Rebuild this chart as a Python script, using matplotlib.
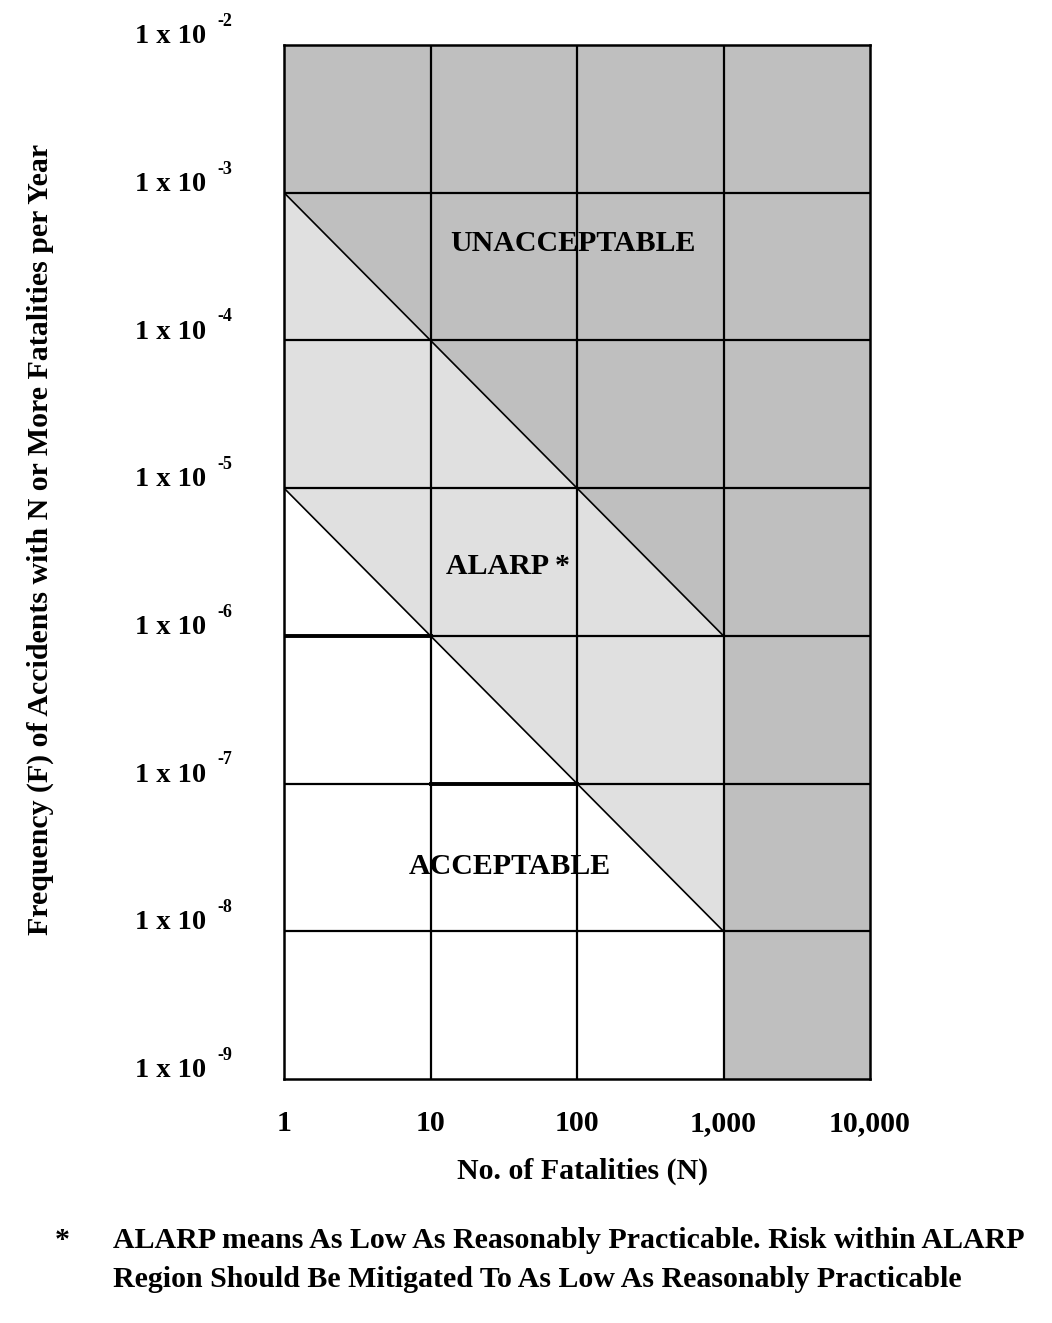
import numpy as np
import matplotlib
matplotlib.use("Agg")
import matplotlib.pyplot as plt
import matplotlib.transforms as mtransforms

plt.rcParams["font.family"] = ["Liberation Serif", "DejaVu Serif"]
plt.rcParams["font.weight"] = "bold"

# ── data ─────────────────────────────────────────────────────────────────────
N_TICKS       = [1, 10, 100, 1000, 10000]
N_TICK_LABELS = ["1", "10", "100", "1,000", "10,000"]
F_EXPONENTS   = [-2, -3, -4, -5, -6, -7, -8, -9]

N_BOUND = [1, 10, 100, 1000]
F_UPPER = [1e-3, 1e-4, 1e-5, 1e-6]    # unacceptable / ALARP boundary
F_LOWER = [1e-5, 1e-6, 1e-7, 1e-8]    # ALARP / acceptable boundary

REGION_LABELS = [("UNACCEPTABLE", 94, 4.5e-4),
                 ("ALARP *",      34, 2.95e-6),
                 ("ACCEPTABLE",   35, 2.75e-8)]

DARK  = "#bfbfbf"
LIGHT = "#e0e0e0"

fig = plt.figure(figsize=(10.52, 13.23), dpi=100)
ax = fig.add_axes([0.270, 0.1844, 0.557, 0.7816])
ax.set_xscale("log")
ax.set_yscale("log")
ax.set_xlim(N_TICKS[0], N_TICKS[-1])
ax.set_ylim(10.0 ** F_EXPONENTS[-1], 10.0 ** F_EXPONENTS[0])

# regions
ax.fill_between(N_BOUND, F_UPPER, 10.0 ** F_EXPONENTS[0], color=DARK, lw=0, zorder=0)
ax.fill_between(N_BOUND, F_LOWER, F_UPPER, color=LIGHT, lw=0, zorder=0)
ax.axvspan(N_BOUND[-1], N_TICKS[-1], color=DARK, lw=0, zorder=0)

# grid
for n in N_TICKS[1:-1]:
    ax.axvline(n, color="black", lw=1.6, zorder=2)
for e in F_EXPONENTS[1:-1]:
    ax.axhline(10.0 ** e, color="black", lw=1.6, zorder=2)

# boundaries
ax.plot(N_BOUND, F_UPPER, color="black", lw=1.2, zorder=3)
ax.plot(N_BOUND, F_LOWER, color="black", lw=1.2, zorder=3)
ax.plot(N_BOUND[:2], [F_LOWER[1]] * 2, color="black", lw=2.8, zorder=3)
ax.plot(N_BOUND[1:3], [F_LOWER[2]] * 2, color="black", lw=2.8, zorder=3)

for s in ax.spines.values():
    s.set_linewidth(1.8)

ax.tick_params(length=0, pad=22)
ax.set_xticks(N_TICKS)
ax.set_xticklabels(N_TICK_LABELS, fontsize=21.5, fontweight="bold")
ax.set_yticks([10.0 ** e for e in F_EXPONENTS])
ax.set_yticklabels([])
ax.minorticks_off()

# y tick labels "1 x 10" with raised exponent
trans = mtransforms.blended_transform_factory(ax.transAxes, ax.transData)
for e in F_EXPONENTS:
    ax.annotate("1 x 10", xy=(0, 10.0 ** e), xycoords=trans,
                xytext=(-56, 6), textcoords="offset points",
                ha="right", va="center", fontsize=20.5, fontweight="bold")
    ax.annotate(f"-{abs(e)}", xy=(0, 10.0 ** e), xycoords=trans,
                xytext=(-48, 17), textcoords="offset points",
                ha="left", va="center", fontsize=13, fontweight="bold")

for txt, x, y in REGION_LABELS:
    ax.text(x, y, txt, ha="center", va="center", fontsize=21.5,
            fontweight="bold", zorder=4)

fig.text(0.554, 0.115, "No. of Fatalities (N)", ha="center", va="center",
         fontsize=21.5, fontweight="bold")
fig.text(0.038, 0.592, "Frequency (F) of Accidents with N or More Fatalities per Year",
         ha="center", va="center", rotation=90, fontsize=21.5, fontweight="bold")

fig.text(0.059, 0.062, "*", ha="center", va="center", fontsize=21.5, fontweight="bold")
fig.text(0.107, 0.062,
         "ALARP means As Low As Reasonably Practicable. Risk within ALARP",
         ha="left", va="center", fontsize=21.5, fontweight="bold")
fig.text(0.107, 0.033,
         "Region Should Be Mitigated To As Low As Reasonably Practicable",
         ha="left", va="center", fontsize=21.5, fontweight="bold")

fig.savefig("out.png", dpi=100)
